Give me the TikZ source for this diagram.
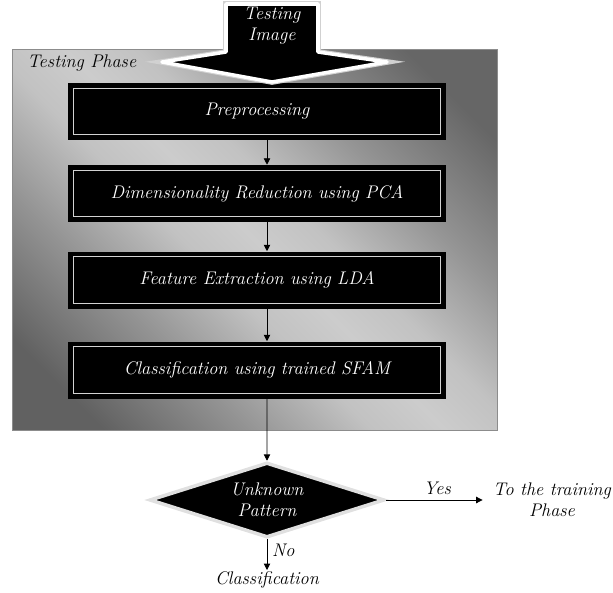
\documentclass[tikz,border=0pt]{standalone}
\usetikzlibrary{shapes.geometric, arrows.meta}
\pgfdeclareverticalshading{phaseshade}{100bp}{color(0bp)=(black!62); color(22bp)=(black!62); color(34bp)=(black!42); color(44bp)=(black!24); color(50bp)=(black!20); color(56bp)=(black!24); color(66bp)=(black!42); color(78bp)=(black!60); color(100bp)=(black!60)}
\begin{document}
\begin{tikzpicture}[
        txt/.style={font=\fontsize{13}{15}\selectfont\itshape, align=center},
        panel/.style={rectangle, draw=black!45, line width=0.5pt, shading=phaseshade, shading angle=-45, minimum width=12.125cm, minimum height=9.525cm, inner sep=0pt},
        stage/.style={txt, rectangle, fill=black, text=white, minimum width=9.45cm, minimum height=1.425cm, inner sep=0pt,
            path picture={\draw[white!65!gray, line width=0.9pt] ([shift={(0.13cm,-0.13cm)}]path picture bounding box.north west) rectangle ([shift={(-0.13cm,0.13cm)}]path picture bounding box.south east);}},
        decision/.style={txt, diamond, aspect=3.1, fill=black, draw=black!12, line width=2.5pt, text=white, minimum width=5.875cm, minimum height=1.875cm, inner sep=0pt},
        flow/.style={-{Triangle[length=1.6mm, width=1.6mm]}, line width=0.6pt},
    ]
	\useasboundingbox (0,0) rectangle (15.325,-14.8);

	\node[panel] (phase) at (6.3625,-5.9875) {};
	\node[txt, anchor=west, inner sep=0pt] (phasename) at (0.675,-1.575) {Testing Phase};

	\node[stage] (pre) at (6.425,-2.7875) {Preprocessing};
	\node[stage] (pca) at (6.425,-4.8375) {Dimensionality Reduction using PCA};
	\node[stage] (lda) at (6.425,-7.0) {Feature Extraction using LDA};
	\node[stage] (sfam) at (6.425,-9.25) {Classification using trained SFAM};

	\filldraw[fill=black, draw=white, line width=2.5pt, line join=round,
        preaction={draw=black!18, line width=4pt}]
        (5.65,-0.1) -- (7.95,-0.1) -- (7.95,-1.3) -- (9.675,-1.55) -- (6.8,-2.05)
        -- (4.05,-1.55) -- (5.65,-1.3) -- cycle;
	\node[txt, text=white] (input) at (6.8,-0.65) {Testing\\Image};

	\node[decision] (unknown) at (6.675,-12.5) {Unknown\\Pattern};
	\node[txt, anchor=north, inner sep=1pt] (result) at (6.675,-14.25) {Classification};
	\node[txt] (training) at (13.8,-12.5) {To the training\\Phase};

	\draw[flow] ([xshift=0.25cm]pre.south) -- ([xshift=0.25cm]pca.north);
	\draw[flow] ([xshift=0.25cm]pca.south) -- ([xshift=0.25cm]lda.north);
	\draw[flow] ([xshift=0.25cm]lda.south) -- ([xshift=0.25cm]sfam.north);
	\draw[flow] ([xshift=0.25cm]sfam.south) -- (unknown.north);
	\draw[flow] (unknown.south) -- node[txt, right, pos=0.35] {No} (result.north);
	\draw[flow, shorten >=4pt] (unknown.east) -- node[txt, above] {Yes} (training.west);

    \end{tikzpicture}
\end{document}
